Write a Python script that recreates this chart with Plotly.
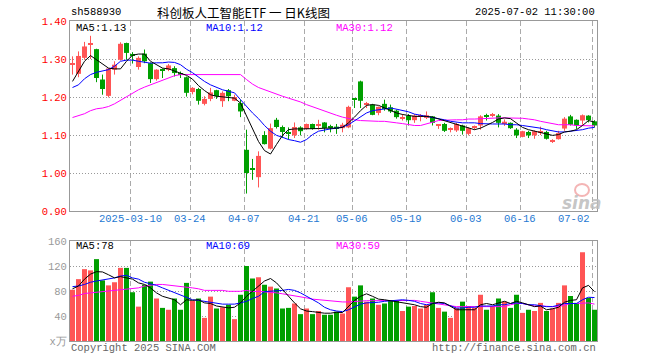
import plotly.graph_objects as go

# ---------------- data ----------------
dates = [
    "2025-02-24", "2025-02-25", "2025-02-26", "2025-02-27", "2025-02-28",
    "2025-03-03", "2025-03-04", "2025-03-05", "2025-03-06", "2025-03-07",
    "2025-03-10", "2025-03-11", "2025-03-12", "2025-03-13", "2025-03-14",
    "2025-03-17", "2025-03-18", "2025-03-19", "2025-03-20", "2025-03-21",
    "2025-03-24", "2025-03-25", "2025-03-26", "2025-03-27", "2025-03-28",
    "2025-03-31", "2025-04-01", "2025-04-02", "2025-04-03",
    "2025-04-07", "2025-04-08", "2025-04-09", "2025-04-10", "2025-04-11",
    "2025-04-14", "2025-04-15", "2025-04-16", "2025-04-17", "2025-04-18",
    "2025-04-21", "2025-04-22", "2025-04-23", "2025-04-24", "2025-04-25",
    "2025-04-28", "2025-04-29", "2025-04-30",
    "2025-05-06", "2025-05-07", "2025-05-08", "2025-05-09",
    "2025-05-12", "2025-05-13", "2025-05-14", "2025-05-15", "2025-05-16",
    "2025-05-19", "2025-05-20", "2025-05-21", "2025-05-22", "2025-05-23",
    "2025-05-26", "2025-05-27", "2025-05-28", "2025-05-29", "2025-05-30",
    "2025-06-03", "2025-06-04", "2025-06-05", "2025-06-06",
    "2025-06-09", "2025-06-10", "2025-06-11", "2025-06-12", "2025-06-13",
    "2025-06-16", "2025-06-17", "2025-06-18", "2025-06-19", "2025-06-20",
    "2025-06-23", "2025-06-24", "2025-06-25", "2025-06-26", "2025-06-27",
    "2025-06-30", "2025-07-01", "2025-07-02",
]

opens = [1.286, 1.261, 1.303, 1.337, 1.326, 1.246, 1.203, 1.272, 1.298, 1.342,
         1.313, 1.279, 1.314, 1.289, 1.247, 1.272, 1.272, 1.276, 1.261, 1.252,
         1.213, 1.221, 1.182, 1.195, 1.218, 1.189, 1.218, 1.190, 1.184, 1.061,
         1.010, 0.989, 1.100, 1.064, 1.140, 1.121, 1.107, 1.099, 1.120, 1.116,
         1.129, 1.124, 1.133, 1.122, 1.122, 1.118, 1.120, 1.196, 1.241, 1.181,
         1.180, 1.158, 1.182, 1.173, 1.164, 1.144, 1.151, 1.139, 1.148, 1.145,
         1.149, 1.126, 1.129, 1.115, 1.112, 1.125, 1.103, 1.119, 1.125, 1.150,
         1.152, 1.151, 1.131, 1.132, 1.114, 1.095, 1.108, 1.099, 1.106, 1.108,
         1.082, 1.089, 1.117, 1.149, 1.140, 1.138, 1.151, 1.136]
highs = [1.307, 1.320, 1.345, 1.361, 1.327, 1.259, 1.276, 1.294, 1.344, 1.343,
         1.318, 1.307, 1.325, 1.291, 1.273, 1.275, 1.287, 1.281, 1.267, 1.254,
         1.226, 1.224, 1.202, 1.224, 1.219, 1.215, 1.221, 1.206, 1.193, 1.114,
         1.037, 1.057, 1.110, 1.130, 1.145, 1.125, 1.120, 1.133, 1.123, 1.130,
         1.130, 1.140, 1.134, 1.127, 1.129, 1.132, 1.177, 1.197, 1.243, 1.187,
         1.182, 1.175, 1.193, 1.180, 1.167, 1.155, 1.155, 1.155, 1.155, 1.162,
         1.150, 1.128, 1.132, 1.120, 1.132, 1.127, 1.120, 1.125, 1.152, 1.156,
         1.158, 1.155, 1.141, 1.133, 1.118, 1.111, 1.111, 1.112, 1.122, 1.111,
         1.089, 1.111, 1.147, 1.153, 1.141, 1.154, 1.152, 1.139]
lows = [1.259, 1.252, 1.298, 1.300, 1.239, 1.206, 1.199, 1.259, 1.296, 1.298,
        1.288, 1.272, 1.289, 1.237, 1.243, 1.250, 1.268, 1.254, 1.250, 1.201,
        1.207, 1.180, 1.178, 1.189, 1.195, 1.174, 1.189, 1.189, 1.147, 0.946,
        0.982, 0.962, 1.075, 1.062, 1.117, 1.092, 1.088, 1.092, 1.099, 1.114,
        1.114, 1.114, 1.107, 1.107, 1.103, 1.107, 1.118, 1.171, 1.171, 1.171,
        1.152, 1.152, 1.164, 1.158, 1.143, 1.138, 1.125, 1.132, 1.136, 1.142,
        1.125, 1.116, 1.108, 1.107, 1.108, 1.101, 1.099, 1.114, 1.114, 1.138,
        1.147, 1.120, 1.124, 1.116, 1.092, 1.094, 1.092, 1.090, 1.100, 1.088,
        1.079, 1.088, 1.111, 1.125, 1.116, 1.127, 1.133, 1.120]
closes = [1.288, 1.308, 1.333, 1.340, 1.250, 1.221, 1.275, 1.285, 1.340, 1.316,
          1.310, 1.303, 1.294, 1.247, 1.272, 1.269, 1.283, 1.263, 1.259, 1.211,
          1.224, 1.190, 1.195, 1.212, 1.202, 1.211, 1.202, 1.200, 1.162, 1.000,
          1.008, 1.045, 1.076, 1.118, 1.121, 1.108, 1.104, 1.121, 1.110, 1.129,
          1.116, 1.126, 1.118, 1.119, 1.118, 1.127, 1.174, 1.194, 1.190, 1.183,
          1.153, 1.174, 1.168, 1.162, 1.147, 1.146, 1.139, 1.151, 1.150, 1.152,
          1.132, 1.128, 1.111, 1.117, 1.129, 1.111, 1.118, 1.121, 1.149, 1.148,
          1.155, 1.132, 1.135, 1.118, 1.099, 1.110, 1.099, 1.110, 1.108, 1.090,
          1.084, 1.105, 1.143, 1.127, 1.125, 1.152, 1.139, 1.125]

ma5 = [1.241, 1.269, 1.294, 1.309, 1.298, 1.287, 1.276, 1.274, 1.274, 1.294,
       1.310, 1.313, 1.313, 1.294, 1.285, 1.276, 1.274, 1.268, 1.263, 1.257,
       1.247, 1.230, 1.217, 1.206, 1.202, 1.200, 1.199, 1.197, 1.184, 1.149,
       1.114, 1.083, 1.059, 1.050, 1.075, 1.099, 1.114, 1.116, 1.116, 1.116,
       1.116, 1.117, 1.118, 1.118, 1.118, 1.120, 1.132, 1.147, 1.164, 1.178,
       1.180, 1.178, 1.171, 1.164, 1.158, 1.154, 1.151, 1.149, 1.149, 1.149,
       1.147, 1.142, 1.138, 1.133, 1.129, 1.123, 1.117, 1.114, 1.118, 1.125,
       1.133, 1.142, 1.145, 1.143, 1.132, 1.120, 1.114, 1.110, 1.107, 1.103,
       1.099, 1.101, 1.108, 1.110, 1.114, 1.125, 1.138, 1.134]
ma10 = [1.225, 1.232, 1.248, 1.259, 1.265, 1.268, 1.272, 1.281, 1.294, 1.297,
        1.297, 1.294, 1.291, 1.289, 1.290, 1.290, 1.292, 1.291, 1.285, 1.273,
        1.264, 1.252, 1.241, 1.232, 1.225, 1.219, 1.215, 1.211, 1.193, 1.174,
        1.158, 1.143, 1.125, 1.110, 1.099, 1.094, 1.088, 1.085, 1.081, 1.088,
        1.101, 1.110, 1.114, 1.116, 1.118, 1.121, 1.127, 1.138, 1.149, 1.158,
        1.164, 1.167, 1.168, 1.171, 1.168, 1.165, 1.161, 1.155, 1.152, 1.149,
        1.147, 1.145, 1.140, 1.136, 1.134, 1.132, 1.132, 1.132, 1.130, 1.129,
        1.129, 1.129, 1.129, 1.127, 1.127, 1.125, 1.123, 1.120, 1.118, 1.114,
        1.110, 1.108, 1.108, 1.110, 1.111, 1.114, 1.118, 1.120]
ma30 = [1.146, 1.151, 1.156, 1.164, 1.169, 1.171, 1.175, 1.182, 1.191, 1.202,
        1.210, 1.219, 1.226, 1.232, 1.239, 1.246, 1.250, 1.256, 1.259, 1.259,
        1.259, 1.259, 1.259, 1.259, 1.259, 1.259, 1.259, 1.259, 1.259, 1.246,
        1.234, 1.225, 1.219, 1.212, 1.206, 1.202, 1.197, 1.193, 1.187, 1.180,
        1.174, 1.168, 1.164, 1.158, 1.152, 1.147, 1.143, 1.140, 1.138, 1.137,
        1.136, 1.136, 1.136, 1.133, 1.132, 1.130, 1.127, 1.125, 1.125, 1.130,
        1.135, 1.138, 1.139, 1.140, 1.140, 1.140, 1.142, 1.142, 1.143, 1.144,
        1.145, 1.145, 1.145, 1.145, 1.145, 1.144, 1.142, 1.140, 1.136, 1.133,
        1.130, 1.127, 1.127, 1.127, 1.125, 1.125, 1.125, 1.124]

volumes = [82, 99, 115, 113, 131, 97, 89, 94, 117, 117,
           78, 55, 90, 95, 68, 53, 50, 68, 50, 93,
           64, 68, 37, 71, 52, 54, 58, 35, 74, 120,
           100, 102, 90, 87, 84, 52, 53, 60, 43, 52,
           43, 48, 42, 42, 47, 44, 86, 71, 89, 63,
           68, 58, 60, 65, 65, 48, 55, 56, 52, 58,
           78, 53, 47, 37, 53, 63, 56, 53, 74, 50,
           56, 68, 63, 53, 74, 45, 50, 48, 61, 48,
           52, 61, 89, 72, 61, 142, 69, 50]
vma5 = [83.5, 88, 99, 107, 111, 110.5, 106, 101, 103, 101,
        99, 93, 90.5, 85, 77, 71.5, 69, 66, 58, 66,
        65, 66, 61, 60, 56, 54, 53, 54, 61, 71.5,
        80, 88, 96, 100, 93, 82.5, 71.5, 61, 51.5, 48,
        47, 45.5, 44.5, 44.5, 46, 45.5, 56, 65, 71.5, 75.5,
        71.5, 67, 66, 64.5, 63.5, 62, 60, 58, 55, 54,
        60, 62, 61, 55, 50, 50, 50, 50, 58, 60,
        58, 61, 63.5, 60, 63.5, 61, 58, 55, 56, 50,
        51.5, 54, 62, 65, 66, 85, 89, 79]
vma10 = [87, 88, 90.5, 94, 96, 97.5, 99, 101, 104, 105,
         101, 99, 94, 92, 89, 85, 81, 78, 74, 70,
         66, 65, 63.5, 62, 61, 59, 59, 59, 61, 63.5,
         68, 71.5, 79, 79.5, 81, 81, 82.5, 81, 77, 71.5,
         67, 61, 54, 50, 48, 47, 50, 55, 59, 61,
         61, 62, 63.5, 64.5, 65, 66, 65, 63.5, 60, 58,
         60, 61, 60, 56, 52.7, 52.7, 54, 54, 56, 56,
         56, 58, 58, 60, 61, 60, 58, 58, 56, 55,
         55, 58, 60, 60, 60, 66, 70, 69.5]
vma30 = [71.5, 73, 76, 77, 78, 78.5, 79.5, 81, 82.5, 82.5,
         83.5, 85, 88, 89.5, 90.5, 90.5, 89.5, 88, 88, 87,
         85, 83.5, 81, 81, 81, 81, 79.5, 79.5, 79.5, 81,
         79, 79.5, 79, 78, 77, 75.5, 74, 72.5, 71.5, 69,
         67, 66, 64.5, 63.5, 63.5, 62.5, 62.5, 63.5, 64.5, 64.5,
         64.5, 64.5, 65, 65, 65, 65, 65, 65, 63.5, 62,
         61, 60, 58, 56, 55, 55, 55, 55, 55, 55,
         55, 55, 55, 58, 60, 60, 58, 56, 56, 55,
         55, 55, 58, 60, 60, 60, 61, 59]

price_ticks = [0.90, 1.00, 1.10, 1.20, 1.30, 1.40]
vol_ticks = [0, 40, 80, 120, 160]
vol_tick_text = ["x万", "40", "80", "120", "160"]
label_dates = ["2025-03-10", "2025-03-24", "2025-04-07", "2025-04-21", "2025-05-06",
               "2025-05-19", "2025-06-03", "2025-06-16", "2025-07-02"]
label_text = ["2025-03-10", "03-24", "04-07", "04-21", "05-06",
              "05-19", "06-03", "06-16", "07-02"]
ma_price_labels = ["MA5:1.13", "MA10:1.12", "MA30:1.12"]
ma_vol_labels = ["MA5:78", "MA10:69", "MA30:59"]

# ---------------- styling / geometry ----------------
W, H = 660, 360
L, R, T, B = 70, 597, 21, 341            # plot area in pixels
RED, GREEN = "#FF5555", "#009F00"
MONO = "Liberation Mono, DejaVu Sans Mono, monospace"
PX_PER_BAR = 6.0
x0 = -2.5 / PX_PER_BAR
x1 = x0 + (R - L) / PX_PER_BAR


def px(xp):
    return (xp - L) / (R - L)


def py(yp):
    return (B - yp) / (B - T)


n = len(dates)
idx = list(range(n))
up = [c >= o for o, c in zip(opens, closes)]

fig = go.Figure()

for flag, color in ((True, RED), (False, GREEN)):
    xs = [i for i in idx if up[i] == flag]
    wx, wy = [], []
    for i in xs:
        wx += [i, i, None]
        wy += [lows[i], highs[i], None]
    fig.add_trace(go.Scatter(x=wx, y=wy, mode="lines", line=dict(color=color, width=1),
                             xaxis="x", yaxis="y", hoverinfo="skip"))
    fig.add_trace(go.Bar(
        x=xs,
        y=[max(abs(closes[i] - opens[i]), 0.0027) for i in xs],
        base=[min(opens[i], closes[i]) for i in xs],
        width=5 / 6, marker=dict(color=color, line=dict(width=0)),
        xaxis="x", yaxis="y"))
    fig.add_trace(go.Bar(
        x=xs, y=[volumes[i] for i in xs],
        width=5 / 6, marker=dict(color=color, line=dict(width=0)),
        xaxis="x2", yaxis="y2"))

for series, color in ((ma30, "#FF00FF"), (ma10, "#0000FF"), (ma5, "#000000")):
    fig.add_trace(go.Scatter(x=idx, y=series, mode="lines",
                             line=dict(color=color, width=1), xaxis="x", yaxis="y"))
for series, color in ((vma30, "#FF00FF"), (vma10, "#0000FF"), (vma5, "#000000")):
    fig.add_trace(go.Scatter(x=idx, y=series, mode="lines",
                             line=dict(color=color, width=1), xaxis="x2", yaxis="y2"))

grid_x = [dates.index(d) - 2.5 / PX_PER_BAR for d in label_dates]

xaxis_common = dict(range=[x0, x1], tickvals=grid_x, showticklabels=False, ticks="",
                    showgrid=True, gridcolor="#AAAAAA", griddash="5px,3px", gridwidth=1,
                    zeroline=False, showline=True, mirror=True, linecolor="#999999",
                    linewidth=1)

price_dom = [(B - 211) / (B - T), 1.0]
vol_dom = [0.0, (B - 241) / (B - T)]

fig.update_layout(
    width=W, height=H, autosize=False,
    margin=dict(l=L, r=W - R, t=T, b=H - B),
    paper_bgcolor="white", plot_bgcolor="white",
    showlegend=False, barmode="overlay",
    xaxis=dict(domain=[0, 1], anchor="y", **xaxis_common),
    xaxis2=dict(domain=[0, 1], anchor="y2", matches="x", **xaxis_common),
    yaxis=dict(domain=price_dom, anchor="x", range=[0.90, 1.40], tickvals=price_ticks,
               ticktext=["%.2f" % v for v in price_ticks], ticks="",
               tickfont=dict(family=MONO, size=10.5, color="#FF0000"),
               showgrid=True, gridcolor="#999999", griddash="1px,2px", gridwidth=1,
               zeroline=False, showline=True, mirror=True, linecolor="#999999",
               linewidth=1),
    yaxis2=dict(domain=vol_dom, anchor="x2", range=[0, 160], tickvals=vol_ticks,
                ticktext=vol_tick_text, ticks="",
                tickfont=dict(family=MONO, size=10.5, color="#999999"),
                showgrid=True, gridcolor="#999999", griddash="1px,2px", gridwidth=1,
                zeroline=False, showline=True, mirror=True, linecolor="#999999",
                linewidth=1),
)

ann = []


def text(xp, yp, s, color="#000000", size=10.5, anchor="left", family=MONO):
    ann.append(dict(x=px(xp), y=py(yp), xref="paper", yref="paper", text=s,
                    showarrow=False, xanchor=anchor, yanchor="middle",
                    font=dict(family=family, size=size, color=color)))


# title row
text(69, 12, "sh588930")
text(243, 12, "科创板人工智能ETF 一 日K线图", size=12.5, anchor="center",
     family="Noto Sans CJK SC, sans-serif")
text(597, 12, "2025-07-02 11:30:00", anchor="right")

# MA labels
ma_colors = ["#000000", "#0000FF", "#FF00FF"]
for xp, lab, c in zip((74, 204, 334), ma_price_labels, ma_colors):
    text(xp, 28, lab, color=c)
for xp, lab, c in zip((74, 204, 334), ma_vol_labels, ma_colors):
    text(xp, 246, lab, color=c)

# date labels
for d, lab in zip(label_dates, label_text):
    gx = L + (dates.index(d) - 2.5 / PX_PER_BAR - x0) * PX_PER_BAR
    anchor = "right" if lab == label_text[-1] else "center"
    text(gx, 219, lab, color="#1E78D2", anchor=anchor)

# footer
text(69, 348, "Copyright 2025 SINA.COM", color="#666666")
text(598, 348, "http://finance.sina.com.cn", color="#666666", anchor="right")

# sina watermark
text(582, 203, "<i><b>sina</b></i>", color="rgba(190,190,190,0.9)", size=17,
     anchor="center", family="DejaVu Sans, sans-serif")
fig.update_layout(annotations=ann)
fig.add_shape(type="circle", xref="paper", yref="paper",
              x0=px(575), x1=px(589), y0=py(196), y1=py(184),
              line=dict(color="rgba(240,150,150,0.7)", width=2))

fig.write_html("out.html", config={"displayModeBar": False},
               post_script="document.body.style.margin='0';"
                           "document.body.style.overflow='hidden';")
